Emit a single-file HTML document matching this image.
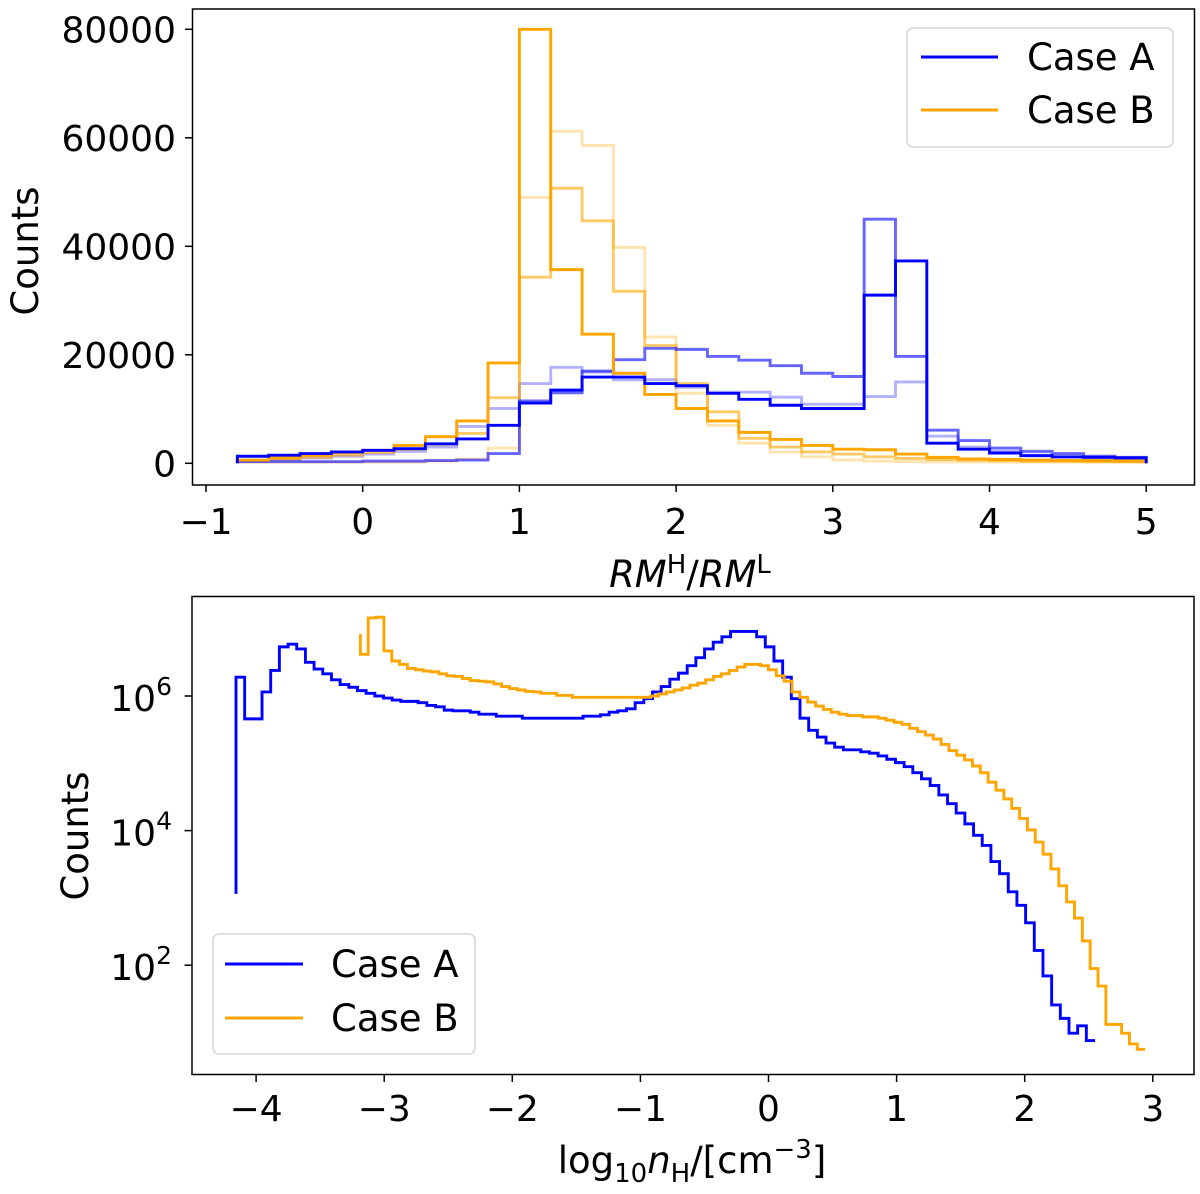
<!DOCTYPE html>
<html><head><meta charset="utf-8"><style>
html,body{margin:0;padding:0;background:#fff;}
svg{display:block;font-family:"DejaVu Sans","Liberation Sans",sans-serif;}
</style></head><body>
<svg id="fig" width="1200" height="1194" viewBox="0 0 1200 1194" xmlns="http://www.w3.org/2000/svg">
<rect width="1200" height="1194" fill="#fff"/>
<g id="top"></g>
<g id="bot"></g>
</svg>
<script>
// ---------- top panel data ----------
const topBinStart = -0.8;
const topBinWidth = 0.2;
const blueSolid = [1300,1500,1800,2100,2400,2700,3600,4500,7000,11100,13500,15900,15900,14700,14300,12900,11800,10700,10100,10100,31000,37300,3700,2600,1900,1400,1200,1100,1000];
const blueMid = [300,300,300,300,400,400,500,600,1800,11500,13000,17000,19100,21200,21000,19700,19000,18000,16600,16000,45000,19700,6100,4200,2800,2200,1800,1300,1100];
const blueFaint = [500,700,1000,1300,1700,2200,3000,6800,10100,14700,17700,16800,15400,15400,14000,13100,13100,12200,10900,10900,12300,15000,5000,3000,2200,1500,1100,900,700];
const orangeSolid = [600,1000,1500,2000,2400,3300,4900,7800,18500,80000,35700,23800,16600,12700,10100,7800,5700,4400,3300,2600,2500,1700,1100,800,700,600,500,500,400];
const orangeMid = [500,800,1100,1500,2000,2600,3500,5500,12100,34300,50700,44700,31700,21700,14700,9500,4600,3000,2100,1700,1200,900,700,600,500,400,400,300,300];
const orangeFaint = [200,200,200,200,200,200,400,800,2800,49000,61200,58600,39800,23300,12900,7000,3700,2100,1200,600,400,300,250,250,200,200,200,200,200];
const topXTicks = [-1,0,1,2,3,4,5];
const topYTicks = [0,20000,40000,60000,80000];
const topYTickLabels = ["0","20000","40000","60000","80000"];

// ---------- bottom panel data (log10 counts, steps-pre points) ----------
const caseAStart = -4.157, caseAEnd = 2.549;
const caseALog = [3.06,6.28,5.66,5.66,6.06,6.38,6.73,6.77,6.70,6.50,6.40,6.33,6.24,6.17,6.13,6.08,6.04,6.00,5.97,5.94,5.92,5.92,5.90,5.86,5.84,5.79,5.78,5.78,5.76,5.73,5.73,5.70,5.70,5.70,5.67,5.67,5.67,5.67,5.67,5.67,5.67,5.70,5.70,5.72,5.76,5.78,5.81,5.90,5.96,6.06,6.14,6.25,6.34,6.45,6.57,6.70,6.80,6.88,6.96,6.96,6.96,6.88,6.73,6.52,6.28,5.96,5.67,5.49,5.39,5.30,5.24,5.20,5.20,5.17,5.15,5.11,5.06,5.01,4.95,4.86,4.77,4.67,4.53,4.40,4.26,4.10,3.93,3.78,3.54,3.36,3.09,2.89,2.63,2.22,1.84,1.41,1.21,0.99,1.10,0.88];
const caseBStart = -3.186, caseBEnd = 2.94;
const caseBLog = [6.92,6.62,7.16,7.17,6.67,6.52,6.47,6.41,6.39,6.37,6.36,6.33,6.30,6.29,6.26,6.23,6.22,6.21,6.18,6.14,6.11,6.09,6.07,6.06,6.04,6.04,6.01,6.01,5.98,5.98,5.98,5.98,5.98,5.98,5.98,5.98,5.98,5.98,6.00,6.03,6.06,6.09,6.12,6.16,6.19,6.24,6.29,6.33,6.38,6.43,6.47,6.47,6.45,6.39,6.30,6.22,6.06,5.98,5.91,5.85,5.80,5.76,5.73,5.71,5.71,5.69,5.69,5.67,5.64,5.61,5.58,5.52,5.47,5.42,5.36,5.28,5.19,5.12,5.05,4.96,4.86,4.72,4.60,4.47,4.33,4.18,4.01,3.83,3.65,3.43,3.18,2.94,2.70,2.36,1.95,1.69,1.12,1.12,0.99,0.83,0.75];
const botXTicks = [-4,-3,-2,-1,0,1,2,3];
const botYTickExp = [2,4,6];

const NS = "http://www.w3.org/2000/svg";
function mk(tag, attrs, parent){ const e=document.createElementNS(NS,tag); for(const k in attrs) e.setAttribute(k,attrs[k]); parent.appendChild(e); return e; }

// ---------- top panel ----------
const T = document.getElementById('top');
const tx = v => 362.7 + 156.7*v;
const ty = c => 463.3 - c*(434/80000);
function histPath(vals){
  let x0 = tx(topBinStart);
  let d = 'M'+x0+','+ty(0);
  vals.forEach((v,i)=>{ const a=tx(topBinStart+i*topBinWidth), b=tx(topBinStart+(i+1)*topBinWidth); d+=' L'+a+','+ty(v)+' L'+b+','+ty(v); });
  d += ' L'+tx(topBinStart+vals.length*topBinWidth)+','+ty(0);
  return d;
}
const topSeries = [
  [orangeFaint,'#ffa500',0.3,'orange-faint-hist'],
  [blueFaint,'#0000ff',0.3,'blue-faint-hist'],
  [orangeMid,'#ffa500',0.6,'orange-mid-hist'],
  [blueMid,'#0000ff',0.6,'blue-mid-hist'],
  [orangeSolid,'#ffa500',1,'orange-solid-hist'],
  [blueSolid,'#0000ff',1,'blue-solid-hist']
];
topSeries.forEach(s=>{
  const p = mk('path',{d:histPath(s[0]),fill:'none',stroke:s[1],'stroke-opacity':s[2],'stroke-width':2.9,'stroke-linejoin':'miter'},T);
  
  
});
const tf = mk('rect',{x:192.5,y:9,width:1002,height:476,fill:'none',stroke:'#000','stroke-width':1.5},T);


topXTicks.forEach(v=>{
  mk('line',{x1:tx(v),x2:tx(v),y1:485,y2:492,stroke:'#000','stroke-width':1.5},T);
  const t = mk('text',{x:tx(v),y:534,'font-size':36,'text-anchor':'middle',fill:'#000'},T);
  t.textContent = v<0 ? '\u2212'+Math.abs(v) : String(v);
  
  
});
topYTicks.forEach((v,i)=>{
  mk('line',{x1:185,x2:192.5,y1:ty(v),y2:ty(v),stroke:'#000','stroke-width':1.5},T);
  const t = mk('text',{x:176,y:ty(v)+13,'font-size':36,'text-anchor':'end',fill:'#000'},T);
  t.textContent = topYTickLabels[i];
  
  
});
</script>
<script>
(function(){
const T=document.getElementById('top');
T.insertAdjacentHTML('beforeend',
 '<text transform="translate(38,251) rotate(-90)" font-size="37" text-anchor="middle">Counts</text>'+
 '<text x="690" y="587" font-size="37" text-anchor="middle"><tspan font-style="italic">RM</tspan><tspan font-size="26" dy="-14">H</tspan><tspan dy="14">/</tspan><tspan font-style="italic">RM</tspan><tspan font-size="26" dy="-14">L</tspan></text>'+
 '<g><rect x="907" y="28" width="266" height="119" rx="6" fill="#fff" fill-opacity="0.8" stroke="#d6d6d6" stroke-width="1.5"/>'+
 '<line x1="921" y1="57" x2="998" y2="57" stroke="#0000ff" stroke-width="2.9"/><text x="1027" y="70" font-size="37">Case A</text>'+
 '<line x1="921" y1="110" x2="998" y2="110" stroke="#ffa500" stroke-width="2.9"/><text x="1027" y="123" font-size="37">Case B</text></g>');
})();

(function(){
const B=document.getElementById('bot');
const bx = v => 768.5 + 128.1*v;
const by = l => 696 - (l-6)*67.3;
function stepPath(start,end,vals){
  const n=vals.length, w=(end-start)/(n-1);
  let d='M'+bx(start)+','+by(vals[0]);
  for(let i=1;i<n;i++){ d+=' L'+bx(start+(i-1)*w)+','+by(vals[i])+' L'+bx(start+i*w)+','+by(vals[i]); }
  return d;
}
const pa = mk('path',{d:stepPath(caseAStart,caseAEnd,caseALog),fill:'none',stroke:'#0000ff','stroke-width':2.9},B);


const pb = mk('path',{d:stepPath(caseBStart,caseBEnd,caseBLog),fill:'none',stroke:'#ffa500','stroke-width':2.9},B);


const bf = mk('rect',{x:192,y:596.5,width:1002,height:478,fill:'none',stroke:'#000','stroke-width':1.5},B);


botXTicks.forEach(v=>{
  mk('line',{x1:bx(v),x2:bx(v),y1:1074.5,y2:1082,stroke:'#000','stroke-width':1.5},B);
  const t = mk('text',{x:bx(v),y:1121,'font-size':36,'text-anchor':'middle',fill:'#000'},B);
  t.textContent = v<0 ? '\u2212'+Math.abs(v) : String(v);
  
  
});
botYTickExp.forEach(e=>{
  mk('line',{x1:184.5,x2:192,y1:by(e),y2:by(e),stroke:'#000','stroke-width':1.5},B);
  const t = mk('text',{x:172,y:by(e)+15,'font-size':36,'text-anchor':'end',fill:'#000'},B);
  t.innerHTML = '10<tspan font-size="25" dy="-16">'+e+'</tspan>';
  
  
});
B.insertAdjacentHTML('beforeend',
 '<text transform="translate(88,836) rotate(-90)" font-size="37" text-anchor="middle">Counts</text>'+
 '<text x="692" y="1173" font-size="37" text-anchor="middle">log<tspan font-size="26" dy="9">10</tspan><tspan dy="-9" font-style="italic">n</tspan><tspan font-size="26" dy="9">H</tspan><tspan dy="-9">/[cm</tspan><tspan font-size="26" dy="-15">\u22123</tspan><tspan dy="15">]</tspan></text>'+
 '<g><rect x="213" y="934" width="262" height="120" rx="6" fill="#fff" fill-opacity="0.8" stroke="#d6d6d6" stroke-width="1.5"/>'+
 '<line x1="225" y1="964" x2="303" y2="964" stroke="#0000ff" stroke-width="2.9"/><text x="331" y="977" font-size="37">Case A</text>'+
 '<line x1="225" y1="1018" x2="303" y2="1018" stroke="#ffa500" stroke-width="2.9"/><text x="331" y="1031" font-size="37">Case B</text></g>');
})();
</script>
</body></html>
